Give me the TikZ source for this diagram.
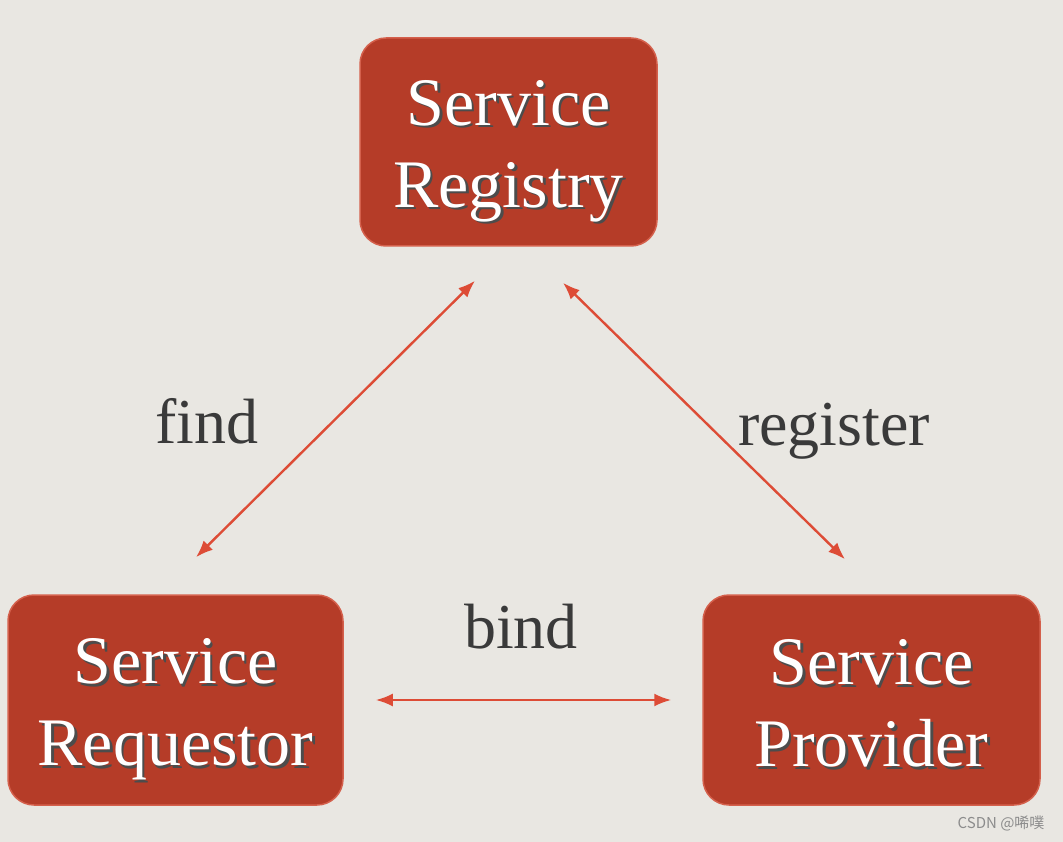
\documentclass[tikz,border=0pt]{standalone}
\usepackage{fontspec}
\setmainfont{Liberation Serif}
\newfontfamily\cjk{Noto Sans CJK SC}
\usetikzlibrary{calc,arrows.meta}
\definecolor{paper}{RGB}{233,231,226}
\definecolor{brick}{RGB}{181,60,40}
\definecolor{brickedge}{RGB}{212,96,76}
\definecolor{wire}{RGB}{221,76,54}
\definecolor{ink}{RGB}{58,58,58}
\definecolor{mark}{RGB}{140,140,140}
\newcommand{\embossed}[1]{\makebox[0pt][l]{\color{black!70}\raisebox{-2.5pt}{\hspace{2.5pt}#1}}#1}
\newcommand{\twolines}[2]{\rule{0pt}{66pt}\embossed{#1}\\\embossed{#2}\vphantom{y}}

\tikzset{
  service/.style={fill=brick, draw=brickedge, line width=1.5pt, rounded corners=26pt,
    text=white, align=center, inner sep=0pt, font=\fontsize{68}{82}\selectfont},
  link/.style={wire, line width=2.4pt, {Latex[length=17pt,width=13pt]}-{Latex[length=17pt,width=13pt]}},
  tag/.style={text=ink, anchor=base, font=\fontsize{64}{64}\selectfont}
}

\begin{document}
\begin{tikzpicture}[x=1pt, y=-1pt]
  \fill[paper] (0,0) rectangle (1063,842);

  % the three parties
  \node[service, minimum width=297pt, minimum height=208pt] (registry) at (508.5,142)
    {\twolines{Service}{Registry}};
  \node[service, minimum width=335pt, minimum height=210pt] (requestor) at (175.5,700)
    {\twolines{Service}{Requestor}};
  \node[service, minimum width=337pt, minimum height=210pt] (provider) at (871.5,700)
    {\twolines{Service}{Provider}};

  % links between them
  \draw[link] ($(requestor.north)+(20.5,-37)$) -- ($(registry.south)+(-33.5,34)$);
  \draw[link] ($(registry.south)+(54.5,36)$) -- ($(provider.north)+(-26.5,-35)$);
  \draw[link] ($(requestor.east)+(32,0)$) -- ($(provider.west)+(-31,0)$);

  \node[tag] (find) at (207,443) {find};
  \node[tag] (register) at (834,445) {register};
  \node[tag] (bind) at (521,648) {bind};

  \node[anchor=east, text=mark, font=\cjk\fontsize{15}{15}\selectfont] (credit) at (1048,823) {CSDN @唏噗};
\end{tikzpicture}
\end{document}
